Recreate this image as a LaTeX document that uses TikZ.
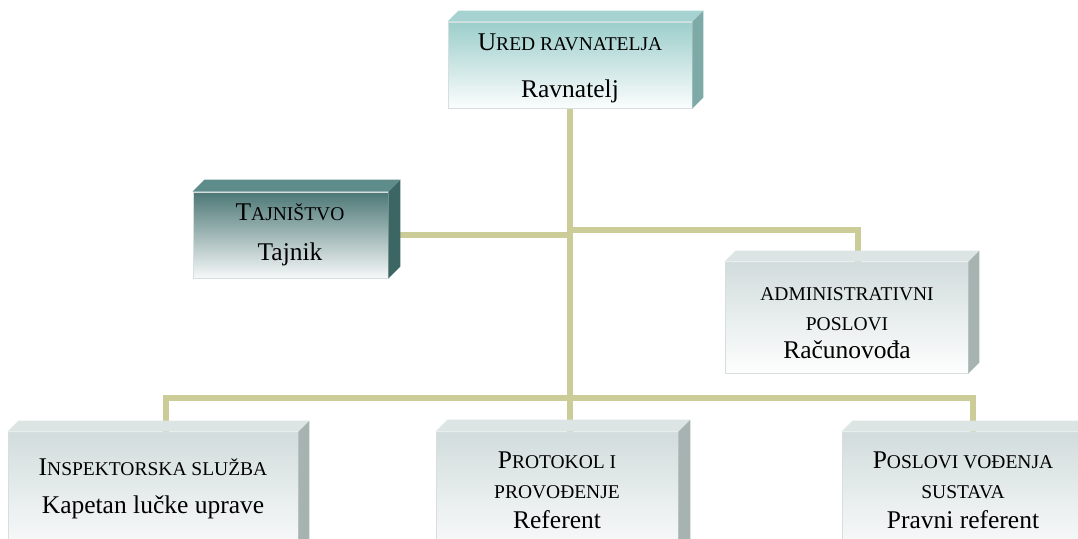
\documentclass[tikz,border=0pt]{standalone}
\usepackage{fontspec}
\setmainfont{Liberation Serif}
\usetikzlibrary{calc,backgrounds}
\definecolor{linkline}{RGB}{204,204,153}
\definecolor{tealfront}{RGB}{156,206,203}
\definecolor{tealtop}{RGB}{166,211,209}
\definecolor{tealside}{RGB}{125,170,167}
\definecolor{darkfront}{RGB}{76,120,118}
\definecolor{darktop}{RGB}{94,140,138}
\definecolor{darkside}{RGB}{60,102,100}
\definecolor{greyfront}{RGB}{210,220,220}
\definecolor{greytop}{RGB}{220,228,228}
\definecolor{greyside}{RGB}{167,179,177}
\definecolor{unitedge}{RGB}{214,222,222}
\newcommand{\smc}[1]{{\fontsize{19.5}{21}\selectfont #1}}
\newcommand{\faces}[4]{%
  \fill[#3] (#1.north west) -- ++(#2,-#2) -- ($(#1.north east)+(#2,-#2)$) -- (#1.north east) -- cycle;
  \fill[#4] (#1.north east) -- ++(#2,-#2) -- ($(#1.south east)+(#2,-#2)$) -- (#1.south east) -- cycle;}
\tikzset{
  unit/.style={rectangle,draw=unitedge,line width=0.8pt,inner sep=0pt},
  tealunit/.style={unit,top color=tealfront,bottom color=white!96!tealfront},
  darkunit/.style={unit,top color=darkfront,bottom color=white!95!darkfront},
  greyunit/.style={unit,top color=greyfront,bottom color=white!97!greyfront},
  line/.style={anchor=base,inner sep=0pt,font=\fontsize{25.5}{28}\selectfont},
  link/.style={linkline,line width=6pt}
}
\begin{document}
\begin{tikzpicture}[x=1pt,y=-1pt]
  \useasboundingbox (0,0) rectangle (1078,538);
  \clip (0,0) rectangle (1078,538);

  \node[tealunit,minimum width=244pt,minimum height=86pt] (ured) at (570,65) {};
  \node[darkunit,minimum width=195pt,minimum height=86pt] (tajn) at (290.5,235) {};
  \node[greyunit,minimum width=243pt,minimum height=111pt] (admin) at (846.5,317.5) {};
  \node[greyunit,minimum width=290pt,minimum height=130pt] (insp) at (153,497) {};
  \node[greyunit,minimum width=242pt,minimum height=130pt] (prot) at (557,497) {};
  \node[greyunit,minimum width=242pt,minimum height=130pt] (posl) at (963,497) {};

  \faces{ured}{11}{tealtop}{tealside}
  \faces{tajn}{12}{darktop}{darkside}
  \faces{admin}{11}{greytop}{greyside}
  \faces{insp}{11}{greytop}{greyside}
  \faces{prot}{12}{greytop}{greyside}
  \faces{posl}{11}{greytop}{greyside}

  \coordinate (jA) at (858,230);
  \coordinate (jL) at (166,398);
  \coordinate (jR) at (973,398);
  \begin{scope}[on background layer]
    \draw[link] (ured.south) -- (ured.south |- prot.north);
    \draw[link] (tajn.east) -- (tajn.east -| ured.south);
    \draw[link] (jA -| ured.south) -- (jA) -- (jA |- admin.north);
    \draw[link] (jL |- insp.north) -- (jL) -- (jR) -- (jR |- posl.north);
  \end{scope}

  \node[line] (ured-1) at (570,50) {U\smc{RED RAVNATELJA}};
  \node[line] (ured-2) at (570,97) {Ravnatelj};
  \node[line] (tajn-1) at (290,220) {T\smc{AJNIŠTVO}};
  \node[line] (tajn-2) at (290,260) {Tajnik};
  \node[line] (admin-1) at (847,300) {\smc{ADMINISTRATIVNI}};
  \node[line] (admin-2) at (847,330) {\smc{POSLOVI}};
  \node[line] (admin-3) at (847,358) {Računovođa};
  \node[line] (insp-1) at (153,475) {I\smc{NSPEKTORSKA SLUŽBA}};
  \node[line] (insp-2) at (153,513) {Kapetan lučke uprave};
  \node[line] (prot-1) at (557,468) {P\smc{ROTOKOL I}};
  \node[line] (prot-2) at (557,498) {\smc{PROVOĐENJE}};
  \node[line] (prot-3) at (557,528) {Referent};
  \node[line] (posl-1) at (963,468) {P\smc{OSLOVI VOĐENJA}};
  \node[line] (posl-2) at (963,498) {\smc{SUSTAVA}};
  \node[line] (posl-3) at (963,528) {Pravni referent};
\end{tikzpicture}
\end{document}
